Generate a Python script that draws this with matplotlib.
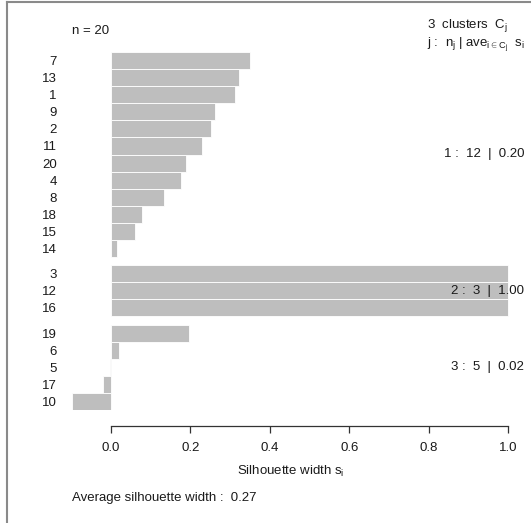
import numpy as np
import matplotlib
matplotlib.use("Agg")
import matplotlib.pyplot as plt
from matplotlib.lines import Line2D

plt.rcParams['font.family'] = ['Liberation Sans', 'DejaVu Sans']
plt.rcParams['mathtext.fontset'] = 'custom'
plt.rcParams['mathtext.rm'] = 'Liberation Sans'
plt.rcParams['mathtext.it'] = 'Liberation Sans'
plt.rcParams['mathtext.sf'] = 'Liberation Sans'

# silhouette widths, already sorted within each cluster
obs_labels = ['7', '13', '1', '9', '2', '11', '20', '4', '8', '18', '15', '14',
              '3', '12', '16',
              '19', '6', '5', '17', '10']
sil_width = [0.3515, 0.323, 0.313, 0.262, 0.252, 0.2295, 0.189, 0.178, 0.134, 0.078, 0.061, 0.017,
             1.0, 1.0, 1.0,
             0.198, 0.020, -0.002, -0.0196, -0.097]
cluster = [1] * 12 + [2] * 3 + [3] * 5

W, H, DPI = 531, 523, 100
FS = 13.3 * 72 / DPI
TXT = '#1a1a1a'

fig = plt.figure(figsize=(W / DPI, H / DPI), dpi=DPI)


def fx(px):
    return px / W


def fy(py):
    return 1 - py / H


# plot region in pixels
x0_px, x1_px = 110.7, 508.3
left_px, right_px, top_px, bot_px = 60, 525.8, 52.3, 410
ax = fig.add_axes([fx(left_px), fy(bot_px), (right_px - left_px) / W, (bot_px - top_px) / H])
scale = x1_px - x0_px
ax.set_xlim((left_px - x0_px) / scale, (right_px - x0_px) / scale)

s = np.array(sil_width)
cl = np.array(cluster)
# half a bar of space between clusters
pos = np.arange(len(s)) + 0.5 * (cl - 1) + 0.5
ax.set_ylim(pos[-1] + 0.5, 0)

ax.barh(pos, s, height=1.0, color='#bebebe', edgecolor='white', linewidth=0.6)

ax.set_yticks(pos)
ax.set_yticklabels(obs_labels, fontsize=FS, color=TXT)
ax.tick_params(axis='y', length=0, pad=3.3 * 72 / DPI)

for side in ['top', 'right', 'left']:
    ax.spines[side].set_visible(False)
ax.spines['bottom'].set_position(('outward', 16 * 72 / DPI))
ax.spines['bottom'].set_bounds(0, 1)
ax.spines['bottom'].set_color('#333333')
ax.spines['bottom'].set_linewidth(0.9)
ax.set_xticks([0, 0.2, 0.4, 0.6, 0.8, 1.0])
ax.set_xticklabels(['0.0', '0.2', '0.4', '0.6', '0.8', '1.0'], fontsize=FS, color=TXT)
ax.tick_params(axis='x', length=6.7 * 72 / DPI, width=0.9, color='#333333', pad=9.3 * 72 / DPI)

# cluster summaries
xr = (524 - x0_px) / scale
for k in sorted(set(cluster)):
    m = cl == k
    ymid = (pos[m].min() + pos[m].max()) / 2
    ax.text(xr, ymid, f'{k} :  {m.sum()}  |  {s[m].mean():.2f}', ha='right', va='center',
            fontsize=FS, color=TXT, clip_on=False)

fig.text(fx(72.4), fy(30.6), f'n = {len(s)}', ha='left', va='center', fontsize=FS, color=TXT)
fig.text(fx(427), fy(25.5), r'3  clusters  $C_\mathrm{j}$', ha='left', va='center', fontsize=FS, color=TXT)
fig.text(fx(427), fy(45), r'j :  $n_\mathrm{j}$ | $ave_{i\in C_j}$  $s_i$', ha='left', va='center',
         fontsize=FS, color=TXT)
fig.text(fx(290.3), fy(471.2), r'Silhouette width $s_i$', ha='center', va='center', fontsize=FS, color=TXT)
fig.text(fx(72.3), fy(497.7), f'Average silhouette width :  {s.mean():.2f}', ha='left', va='center',
         fontsize=FS, color=TXT)

# window frame on the left and top
fig.add_artist(Line2D([fx(6.7), fx(6.7)], [0, fy(1.7)], color='#8a8a8a', linewidth=1.5, transform=fig.transFigure))
fig.add_artist(Line2D([fx(6.7), 1], [fy(1.7), fy(1.7)], color='#8a8a8a', linewidth=1.5, transform=fig.transFigure))

fig.savefig('out.png', dpi=DPI)
